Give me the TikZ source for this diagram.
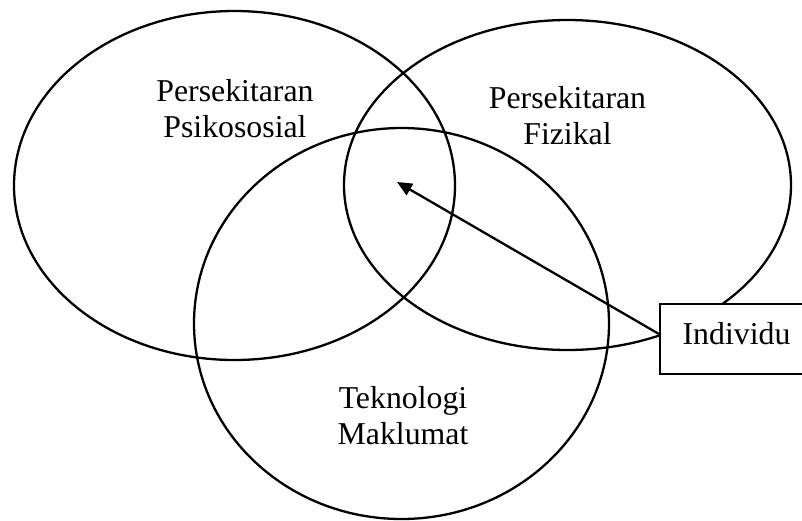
\documentclass[tikz,border=0pt]{standalone}
\usepackage{fontspec}
\setmainfont{Liberation Serif}
\usetikzlibrary{arrows.meta}
\begin{document}
\begin{tikzpicture}[x=1pt,y=-1pt,
  ring/.style={line width=2.3pt},
  lbl/.style={align=center,inner sep=0pt,font=\fontsize{31.8pt}{36pt}\selectfont},
  boxnode/.style={draw,line width=2.1pt,fill=white,inner sep=0pt,minimum width=153pt,minimum height=70pt,
     text height=22pt,text depth=12pt,font=\fontsize{31.8pt}{36pt}\selectfont},
  pointer/.style={line width=2.3pt,-{Triangle[length=15pt,width=13pt]}}]
\useasboundingbox (0,0) rectangle (802,520);
\clip (0,0) rectangle (802,520);
% ellipses
\draw[ring] (234.5,185.5) ellipse [x radius=220.5pt, y radius=174.5pt];
\draw[ring] (567.5,185) ellipse [x radius=223.5pt, y radius=165pt];
\draw[ring] (401.5,323.5) ellipse [x radius=207.5pt, y radius=195.5pt];
% labels
\node[lbl] (psy) at (235,108.7) {Persekitaran\\Psikososial};
\node[lbl] (fiz) at (567.5,116) {Persekitaran\\Fizikal};
\node[lbl] (tek) at (403,415.2) {Teknologi\\Maklumat};
% individual box
\node[boxnode] (ind) at (736.5,339) {Individu};
\coordinate (tip) at (397,182);
\draw[pointer] ([yshift=5pt]ind.west) -- (tip);
\end{tikzpicture}
\end{document}
